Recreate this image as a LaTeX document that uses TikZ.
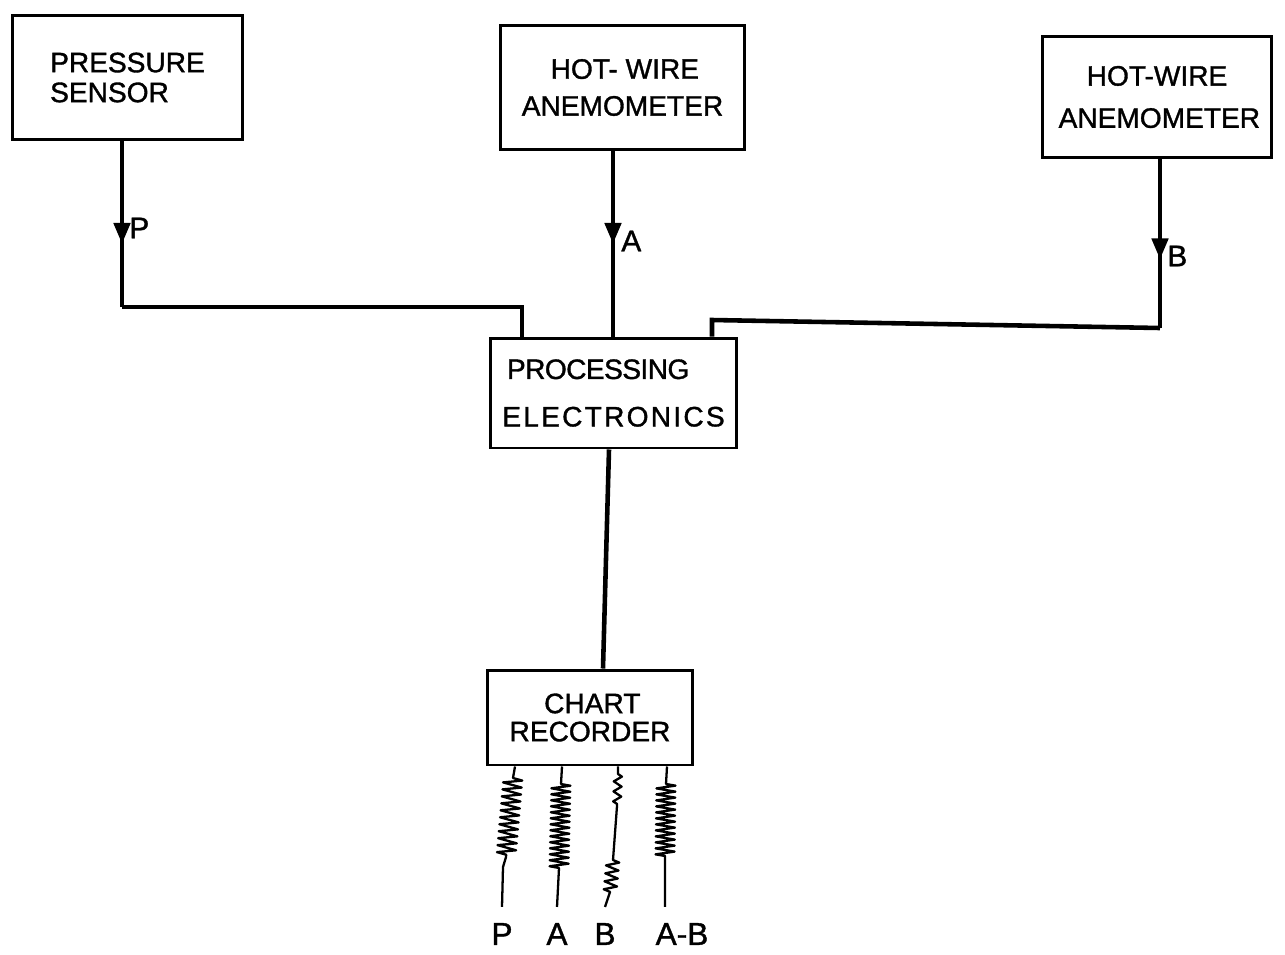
\documentclass[tikz,border=0pt]{standalone}
\usepackage{fontspec}
\setmainfont{Liberation Sans}[FakeBold=1.2]
\usetikzlibrary{arrows.meta,decorations.markings,decorations.pathmorphing}
\begin{document}
\begin{tikzpicture}[x=0.02cm,y=-0.02cm,
  box/.style={draw,line width=1.7pt,rectangle,inner sep=0pt,font=\fontsize{16}{19}\selectfont},
  conn/.style={line width=2.6pt,line join=miter},
  arrowat/.style={postaction={decorate},decoration={markings,mark=at position #1 with {\arrow{Triangle[length=0.42cm,width=0.32cm]}}}},
  lbl/.style={font=\fontsize{17}{19}\selectfont,inner sep=0pt},
  tlbl/.style={font=\fontsize{18}{20}\selectfont,inner sep=0pt},
  trace/.style={line width=1.3pt,line join=round},
  zz/.style={decoration={zigzag,segment length=#1,amplitude=0.19cm}},
  zzm/.style={decoration={zigzag,segment length=#1,amplitude=0.13cm}},
  zzs/.style={decoration={zigzag,segment length=#1,amplitude=0.08cm}}
]
\useasboundingbox (0,0) rectangle (1285,954);

% boxes
\node[box,minimum width=4.62cm,minimum height=2.5cm,align=left] (ps) at (127.5,77.5)
  {PRESSURE\\[-2pt]SENSOR\hspace*{0.3cm}};
\node[box,minimum width=4.9cm,minimum height=2.5cm,align=center] (hw1) at (622.5,87.5)
  {\,HOT- WIRE\\[2pt]ANEMOMETER};
\node[box,minimum width=4.6cm,minimum height=2.44cm,align=center] (hw2) at (1157,97)
  {HOT-WIRE\\[5pt]\,ANEMOMETER};
\node[box,minimum width=4.94cm,minimum height=2.2cm,align=left] (pe) at (613.5,393)
  {\addfontfeature{LetterSpace=-2}\,PROCESSING\\[8pt]{\addfontfeature{LetterSpace=8}ELECTRONICS}};
\node[box,minimum width=4.12cm,minimum height=1.9cm,align=center] (cr) at (590,717.5)
  {\,CHART\\[-3pt]RECORDER};

% connectors
\draw[conn,arrowat=2.05cm] (ps.south -| 122,0) -- (122,307);
\draw[conn] (122,307) -- (522,307) -- (522,0 |- pe.north);
\draw[conn,arrowat=1.85cm] (hw1.south -| 613,0) -- (613,0 |- pe.north);
\draw[conn,arrowat=2.0cm] (hw2.south -| 1160,0) -- (1160,328);
\draw[conn] (1160,328) -- (712,320) -- (712,0 |- pe.north);
\draw[conn] (pe.south -| 609,0) -- (cr.north -| 603,0);

% arrow labels
\node[lbl,anchor=west] (lP) at (129,228) {P};
\node[lbl,anchor=west] (lA) at (621,241) {A};
\node[lbl,anchor=west] (lB) at (1167,256) {B};

% trace labels
\node[tlbl] (tP) at (502,934) {P};
\node[tlbl] (tA) at (557,934) {A};
\node[tlbl] (tB) at (605,934) {B};
\node[tlbl] (tAB) at (682,934) {A-B};

% traces
\draw[trace] (cr.south -| 515,0) -- (513,778)
  decorate[zz=0.14cm]{ -- (506,857)} -- (503,867) -- ([yshift=9pt]tP.north);
\draw[trace] (cr.south -| 562,0) -- (561,784)
  decorate[zz=0.12cm]{ -- (559,868)} -- ([yshift=9pt]tA.north);
\draw[trace] (cr.south -| 618,0) -- (618,774)
  decorate[zzs=0.2cm]{ -- (617,806)} -- (613,860)
  decorate[zzm=0.16cm]{ -- (610,892)} -- ([yshift=9pt]tB.north);
\draw[trace] (cr.south -| 667,0) -- (666,784)
  decorate[zz=0.12cm]{ -- (665,858)} -- ([yshift=9pt]tAB.north -| 665,0);
\end{tikzpicture}
\end{document}
